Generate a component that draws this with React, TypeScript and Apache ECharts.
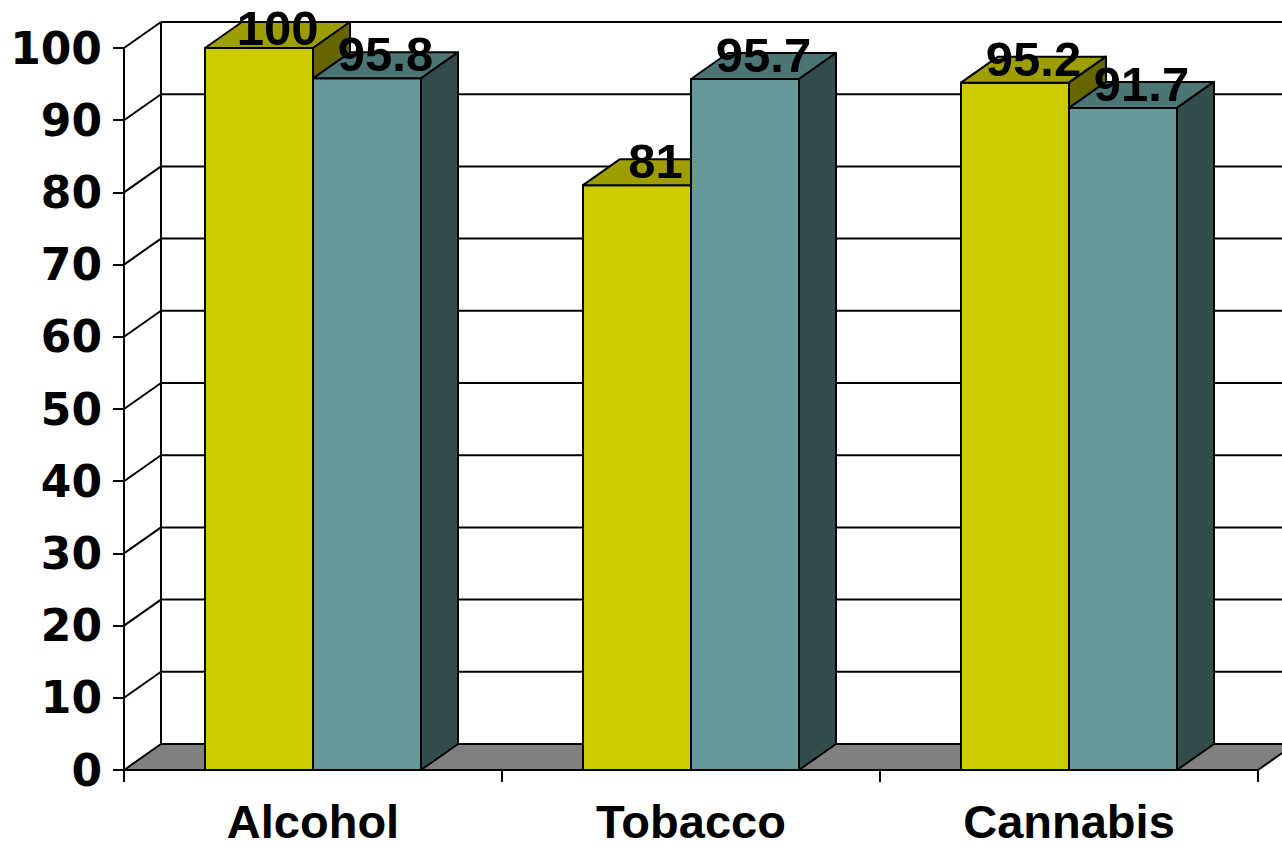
import React, { useEffect, useRef } from "react";
import * as echarts from "echarts";

const categories = ["Alcohol", "Tobacco", "Cannabis"];
const seriesFirst = [100, 81, 95.2];
const seriesSecond = [95.8, 95.7, 91.7];
const yTicks = [0, 10, 20, 30, 40, 50, 60, 70, 80, 90, 100];

// oblique depth offset of the pseudo-3D projection
const DX = 37;
const DY = -26;

const YELLOW = { front: "#CCCC00", top: "#9E9E00", side: "#666600" };
const TEAL = { front: "#669999", top: "#4C7676", side: "#334D4D" };

function barRenderer(slot: number, colors: { front: string; top: string; side: string }) {
  return (params: any, api: any) => {
    const idx = api.value(0);
    const v = api.value(1);
    const base = api.coord([idx, 0]);
    const top = api.coord([idx, v]);
    const band = api.size([1, 0])[0];
    const w = band / 3.5;
    const x0 = base[0] - band / 2 + 0.75 * w + slot * w;
    const x1 = x0 + w;
    const yb = base[1];
    const yt = top[1];
    const edge = { stroke: "#000", lineWidth: 2, lineJoin: "round" };
    // value label sits over the top face, kept inside the canvas
    const labelY = Math.max(yt + DY / 2 - 11, 28);
    return {
      type: "group",
      children: [
        {
          type: "polygon",
          shape: { points: [[x0, yt], [x1, yt], [x1, yb], [x0, yb]] },
          style: { fill: colors.front, ...edge },
        },
        {
          type: "polygon",
          shape: { points: [[x0, yt], [x1, yt], [x1 + DX, yt + DY], [x0 + DX, yt + DY]] },
          style: { fill: colors.top, ...edge },
        },
        {
          type: "polygon",
          shape: { points: [[x1, yt], [x1 + DX, yt + DY], [x1 + DX, yb + DY], [x1, yb]] },
          style: { fill: colors.side, ...edge },
        },
        {
          type: "text",
          z2: 50,
          x: x0 + w / 2 + DX / 2,
          y: labelY,
          style: {
            text: String(v),
            font: 'bold 49px "Liberation Sans", Arial, sans-serif',
            lineHeight: 40,
            fill: "#000",
            align: "center",
            verticalAlign: "middle",
          },
        },
      ],
    };
  };
}

function wallRenderer(params: any, api: any) {
  const cs = params.coordSys;
  const v = api.value(1);
  const y = api.coord([0, v])[1];
  const left = cs.x;
  const right = cs.x + cs.width;
  const line = { stroke: "#000", lineWidth: 2 };
  const children: any[] = [];
  if (v === 0) {
    children.push({
      type: "polygon",
      shape: {
        points: [
          [left, y],
          [right, y],
          [right + DX, y + DY],
          [left + DX, y + DY],
        ],
      },
      style: { fill: "#808080", ...line, lineJoin: "round" },
    });
  } else {
    children.push({
      type: "line",
      shape: { x1: left, y1: y, x2: left + DX, y2: y + DY },
      style: line,
    });
    children.push({
      type: "line",
      shape: { x1: left + DX, y1: y + DY, x2: right + DX + 40, y2: y + DY },
      style: line,
    });
  }
  if (v === yTicks[yTicks.length - 1]) {
    const y0 = api.coord([0, 0])[1];
    children.push({
      type: "line",
      shape: { x1: left + DX, y1: y + DY, x2: left + DX, y2: y0 + DY },
      style: line,
    });
  }
  return { type: "group", children };
}

export default function App() {
  const ref = useRef<HTMLDivElement>(null);

  useEffect(() => {
    document.body.style.margin = "0";
    const chart = echarts.init(ref.current!, null, { renderer: "svg" });
    chart.setOption({
      animation: false,
      backgroundColor: "#ffffff",
      grid: { left: 124, right: 24, top: 48, bottom: 78 },
      xAxis: {
        type: "category",
        data: categories,
        axisLine: { show: true, lineStyle: { color: "#000", width: 2 } },
        axisTick: { show: true, length: 12, interval: 0, lineStyle: { color: "#000", width: 2 } },
        axisLabel: {
          interval: 0,
          margin: 31,
          lineHeight: 40,
          color: "#000",
          fontFamily: '"Liberation Sans", Arial, sans-serif',
          fontWeight: "bold",
          fontSize: 47,
        },
      },
      yAxis: {
        type: "value",
        min: 0,
        max: 100,
        interval: 10,
        axisLine: { show: true, lineStyle: { color: "#000", width: 2 } },
        axisTick: { show: true, length: 11, lineStyle: { color: "#000", width: 2 } },
        splitLine: { show: false },
        axisLabel: {
          margin: 22,
          color: "#000",
          fontFamily: '"DejaVu Sans", Verdana, sans-serif',
          fontWeight: "bold",
          fontSize: 44,
        },
      },
      series: [
        {
          type: "custom",
          z: 1,
          clip: false,
          silent: true,
          renderItem: wallRenderer,
          data: yTicks.map((t) => [0, t]),
        },
        {
          type: "custom",
          z: 2,
          clip: false,
          renderItem: barRenderer(0, YELLOW),
          data: seriesFirst.map((v, i) => [i, v]),
        },
        {
          type: "custom",
          z: 2,
          clip: false,
          renderItem: barRenderer(1, TEAL),
          data: seriesSecond.map((v, i) => [i, v]),
        },
      ],
    });
    return () => chart.dispose();
  }, []);

  return <div ref={ref} style={{ width: 1282, height: 848 }} />;
}
